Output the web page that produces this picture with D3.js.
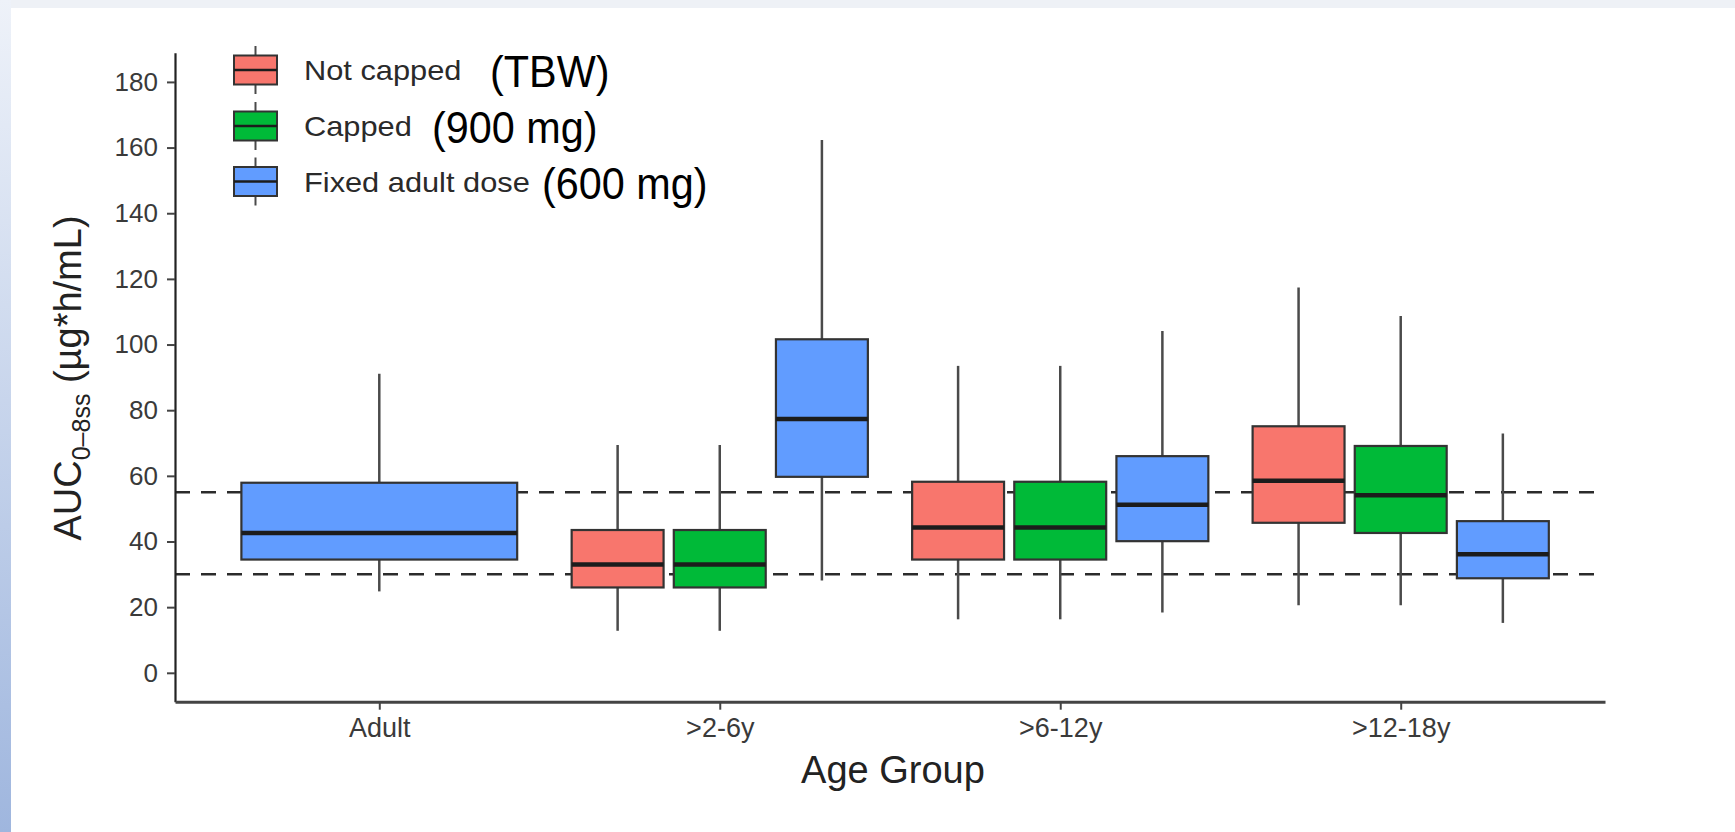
<!DOCTYPE html>
<html>
<head>
<meta charset="utf-8">
<script src="https://cdn.jsdelivr.net/npm/d3@7"></script>
<style>
  html, body { margin: 0; padding: 0; background: #fff; }
  #chart { width: 1735px; height: 832px; position: relative; }
  text { font-family: "Liberation Sans", Arial, sans-serif; }
</style>
</head>
<body>
<div id="chart"></div>
<script>
// age groups on the x axis
const groups = ["Adult", ">2-6y", ">6-12y", ">12-18y"];
const seriesNames = ["Not capped", "Capped", "Fixed adult dose"];
const seriesNotes = ["(TBW)", "(900 mg)", "(600 mg)"];
const seriesColors = ["#F8766D", "#00BA38", "#619CFF"];

// box stats per group: [whisker low, q1, median, q3, whisker high]
const notCapped = [null, [12.8, 26.0, 33.0, 43.5, 69.4], [16.3, 34.5, 44.3, 58.2, 93.5], [20.6, 45.7, 58.5, 75.1, 117.4]];
const capped = [null, [12.8, 26.0, 33.0, 43.5, 69.4], [16.3, 34.5, 44.3, 58.2, 93.5], [20.6, 42.6, 54.1, 69.1, 108.7]];
const fixedDose = [[24.8, 34.5, 42.6, 57.9, 91.1], [28.1, 59.7, 77.3, 101.6, 162.3], [18.4, 40.1, 51.2, 66.0, 104.1], [15.2, 28.8, 36.1, 46.2, 72.9]];

const yTicks = [0, 20, 40, 60, 80, 100, 120, 140, 160, 180];
const refLines = [30, 55];

const allStats = [notCapped, capped, fixedDose];

const width = 1735, height = 832;
const plot = { left: 175, right: 1605, top: 52.7, bottom: 701.7 };

const svg = d3.select("#chart").append("svg")
  .attr("width", width)
  .attr("height", height);

// slide background bits
const defs = svg.append("defs");
const grad = defs.append("linearGradient").attr("id", "sideGrad")
  .attr("x1", 0).attr("y1", 0).attr("x2", 0).attr("y2", 1);
grad.append("stop").attr("offset", "0%").attr("stop-color", "#eef2f9");
grad.append("stop").attr("offset", "100%").attr("stop-color", "#9fb6de");
svg.append("rect").attr("x", 0).attr("y", 0).attr("width", width).attr("height", 8).attr("fill", "#eef1f6");
svg.append("rect").attr("x", 0).attr("y", 0).attr("width", 11).attr("height", height).attr("fill", "url(#sideGrad)");

const x = d3.scalePoint().domain(groups).range([plot.left, plot.right]).padding(0.6);
const step = x.step();
const xInner = d3.scaleBand().domain(seriesNames).range([-0.45 * step, 0.45 * step]);
const y = d3.scaleLinear().domain([-8.8, 188.9]).range([plot.bottom, plot.top]);

// reference lines
svg.append("g").selectAll("line")
  .data(refLines)
  .enter().append("line")
  .attr("x1", plot.left).attr("x2", plot.right - 6)
  .attr("y1", d => y(d)).attr("y2", d => y(d))
  .attr("stroke", "#2b2b2b")
  .attr("stroke-width", 2.5)
  .attr("stroke-dasharray", "15,11");

// build boxes
const boxes = [];
groups.forEach((g, gi) => {
  const present = seriesNames.filter((s, si) => allStats[si][gi]);
  seriesNames.forEach((s, si) => {
    const st = allStats[si][gi];
    if (!st) return;
    let cx, w;
    if (present.length === 1) {
      cx = x(g);
      w = 0.9 * step * 0.9;
    } else {
      cx = x(g) + xInner(s) + xInner.bandwidth() / 2;
      w = xInner.bandwidth() * 0.9;
    }
    boxes.push({ cx, w, st, color: seriesColors[si] });
  });
});

const box = svg.append("g").selectAll("g")
  .data(boxes)
  .enter().append("g");

box.append("line")
  .attr("x1", d => d.cx).attr("x2", d => d.cx)
  .attr("y1", d => y(d.st[0])).attr("y2", d => y(d.st[4]))
  .attr("stroke", "#4a4a4a")
  .attr("stroke-width", 2.5);

box.append("rect")
  .attr("x", d => d.cx - d.w / 2)
  .attr("width", d => d.w)
  .attr("y", d => y(d.st[3]))
  .attr("height", d => y(d.st[1]) - y(d.st[3]))
  .attr("fill", d => d.color)
  .attr("stroke", "#333")
  .attr("stroke-width", 2.2);

box.append("line")
  .attr("x1", d => d.cx - d.w / 2).attr("x2", d => d.cx + d.w / 2)
  .attr("y1", d => y(d.st[2])).attr("y2", d => y(d.st[2]))
  .attr("stroke", "#1c1c1c")
  .attr("stroke-width", 4.5);

// axes
const yAxis = svg.append("g")
  .attr("transform", `translate(${plot.left},0)`)
  .call(d3.axisLeft(y).tickValues(yTicks).tickSize(8).tickSizeOuter(0).tickPadding(9));
yAxis.select(".domain").attr("stroke", "#222").attr("stroke-width", 2.2);
yAxis.selectAll(".tick line").attr("stroke", "#444").attr("stroke-width", 2);
yAxis.selectAll(".tick text").attr("font-size", 26).attr("fill", "#3a3a3a");

const xAxis = svg.append("g")
  .attr("transform", `translate(0,${plot.bottom})`)
  .call(d3.axisBottom(x).tickSize(8).tickSizeOuter(0).tickPadding(8));
xAxis.select(".domain").attr("stroke", "#444").attr("stroke-width", 3);
xAxis.selectAll(".tick line").attr("stroke", "#444").attr("stroke-width", 2);
xAxis.selectAll(".tick text").attr("font-size", 27).attr("fill", "#3a3a3a");

// axis titles
svg.append("text")
  .attr("x", (plot.left + plot.right) / 2 + 3)
  .attr("y", 783)
  .attr("text-anchor", "middle")
  .attr("font-size", 38)
  .attr("fill", "#222")
  .text("Age Group");

const yTitle = svg.append("text")
  .attr("transform", "translate(81,378) rotate(-90)")
  .attr("text-anchor", "middle")
  .attr("font-size", 38)
  .attr("fill", "#222");
yTitle.append("tspan").text("AUC");
yTitle.append("tspan").attr("font-size", 25).attr("dy", 9).text("0\u20138ss");
yTitle.append("tspan").attr("dy", -9).text(" (\u00b5g*h/mL)");

// legend
const legendRows = [70, 126, 181.5];
const noteX = [490, 432, 542];
const legend = svg.append("g").selectAll("g")
  .data(seriesNames)
  .enter().append("g")
  .attr("transform", (d, i) => `translate(0,${legendRows[i]})`);

legend.append("line")
  .attr("x1", 255.5).attr("x2", 255.5)
  .attr("y1", -24).attr("y2", 24)
  .attr("stroke", "#4a4a4a").attr("stroke-width", 2);
legend.append("rect")
  .attr("x", 234).attr("y", -14.5)
  .attr("width", 43).attr("height", 29)
  .attr("fill", (d, i) => seriesColors[i])
  .attr("stroke", "#333").attr("stroke-width", 2);
legend.append("line")
  .attr("x1", 234).attr("x2", 277)
  .attr("y1", 0).attr("y2", 0)
  .attr("stroke", "#1c1c1c").attr("stroke-width", 2.5);
legend.append("text")
  .attr("transform", "translate(304,10) scale(1.14,1)")
  .attr("font-size", 27)
  .attr("fill", "#2a2a2a")
  .text(d => d);
legend.append("text")
  .attr("transform", (d, i) => `translate(${noteX[i]},17) scale(0.92,1)`)
  .attr("font-family", "Lato, 'Open Sans', sans-serif")
  .attr("font-size", 45)
  .attr("fill", "#000")
  .text((d, i) => seriesNotes[i]);
</script>
</body>
</html>
